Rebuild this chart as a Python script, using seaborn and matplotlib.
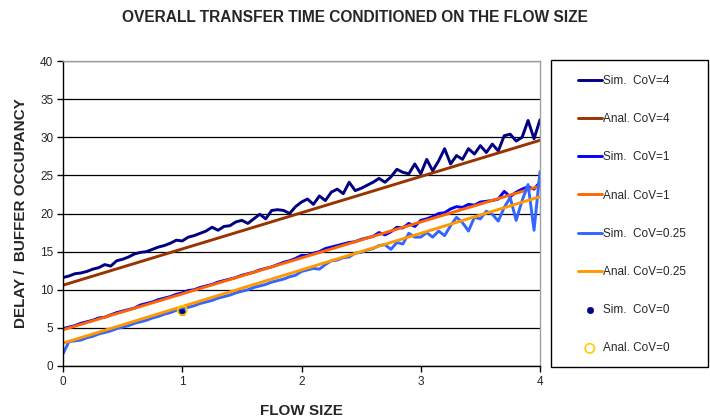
import numpy as np
import pandas as pd
import matplotlib
matplotlib.use('Agg')
import matplotlib.pyplot as plt
from matplotlib.patches import Rectangle
import seaborn as sns

# flow sizes of the simulation runs
flow_size = np.round(np.arange(0, 4.001, 0.05), 2)

sim_cov4 = [11.6, 11.8, 12.1, 12.2, 12.4, 12.7, 12.9, 13.3, 13.1, 13.8,
            14.0, 14.3, 14.7, 14.9, 15.0, 15.3, 15.6, 15.8, 16.1, 16.5,
            16.4, 16.9, 17.1, 17.4, 17.7, 18.2, 17.8, 18.3, 18.4, 18.9,
            19.1, 18.7, 19.3, 19.9, 19.3, 20.4, 20.5, 20.4, 20.0, 20.9,
            21.5, 21.9, 21.2, 22.3, 21.7, 22.8, 23.2, 22.6, 24.1, 23.0,
            23.3, 23.7, 24.1, 24.6, 24.1, 24.8, 25.8, 25.4, 25.2, 26.5,
            25.2, 27.1, 25.6, 26.9, 28.5, 26.5, 27.6, 27.1, 28.5, 27.8,
            28.9, 28.0, 29.1, 28.2, 30.2, 30.4, 29.5, 30.0, 32.2, 29.8,
            32.3]

sim_cov1 = [4.9, 5.1, 5.3, 5.6, 5.8, 6.0, 6.3, 6.4, 6.7, 7.0,
            7.2, 7.4, 7.6, 8.0, 8.2, 8.4, 8.7, 8.9, 9.1, 9.4,
            9.6, 9.9, 10.0, 10.3, 10.5, 10.7, 11.0, 11.2, 11.4, 11.6,
            11.9, 12.1, 12.3, 12.6, 12.8, 13.0, 13.3, 13.6, 13.8, 14.1,
            14.5, 14.5, 14.8, 15.0, 15.4, 15.6, 15.8, 16.0, 16.2, 16.3,
            16.6, 16.8, 17.0, 17.5, 17.2, 17.6, 18.2, 18.1, 18.7, 18.3,
            19.1, 19.3, 19.6, 20.0, 20.1, 20.6, 20.9, 20.8, 21.2, 21.1,
            21.5, 21.6, 21.7, 21.9, 22.9, 22.2, 22.8, 23.2, 23.5, 23.2,
            24.1]

sim_cov025 = [1.6, 3.2, 3.3, 3.4, 3.7, 3.9, 4.2, 4.4, 4.6, 4.9,
              5.1, 5.3, 5.6, 5.8, 6.0, 6.3, 6.5, 6.8, 7.0, 7.3,
              7.5, 7.7, 7.9, 8.2, 8.4, 8.6, 8.9, 9.1, 9.3, 9.6,
              9.8, 10.0, 10.3, 10.5, 10.7, 11.0, 11.2, 11.4, 11.7, 11.9,
              12.4, 12.6, 12.8, 12.7, 13.3, 13.8, 13.9, 14.2, 14.3, 14.8,
              14.9, 15.2, 15.4, 15.8, 15.9, 15.3, 16.2, 16.0, 17.4, 16.9,
              16.9, 17.5, 16.9, 17.7, 17.1, 18.4, 19.5, 18.8, 17.7, 19.5,
              19.3, 20.3, 19.9, 19.0, 20.8, 22.1, 19.1, 21.7, 23.8, 17.8,
              25.5]

# analytical results are straight lines: values at flow size 0 and 4
anal_x = [0, 4]
anal_cov4 = [10.6, 29.6]
anal_cov1 = [4.75, 23.6]
anal_cov025 = [3.0, 22.2]

# CoV=0 single point
cov0_x = [1.0]
sim_cov0 = [7.1]
anal_cov0 = [7.3]

sns.set_style('white')
plt.rcParams['font.family'] = ['Liberation Sans', 'DejaVu Sans']

fig = plt.figure(figsize=(7.1, 4.2), dpi=100)
ax = fig.add_axes([63 / 710, 1 - 366 / 420, 477 / 710, 305 / 420])

lw = 2.1
sns.lineplot(x=flow_size, y=sim_cov4, color='#000080', lw=lw, label='Sim.  CoV=4', ax=ax)
sns.lineplot(x=anal_x, y=anal_cov4, color='#993300', lw=lw, label='Anal. CoV=4', ax=ax)
sns.lineplot(x=flow_size, y=sim_cov1, color='#0000FF', lw=lw, label='Sim.  CoV=1', ax=ax)
sns.lineplot(x=anal_x, y=anal_cov1, color='#FF6600', lw=lw, label='Anal. CoV=1', ax=ax)
sns.lineplot(x=flow_size, y=sim_cov025, color='#3366FF', lw=lw, label='Sim.  CoV=0.25', ax=ax)
sns.lineplot(x=anal_x, y=anal_cov025, color='#FF9900', lw=lw, label='Anal. CoV=0.25', ax=ax)
sns.scatterplot(x=cov0_x, y=sim_cov0, color='#000080', s=22, edgecolor='#000080',
                label='Sim.  CoV=0', ax=ax, zorder=5)
sns.scatterplot(x=cov0_x, y=anal_cov0, facecolor='none', edgecolor='#FFCC00', s=45,
                linewidth=1.2, label='Anal. CoV=0', ax=ax, zorder=6)

ax.set_xlim(0, 4)
ax.set_ylim(0, 40)
ax.set_xticks([0, 1, 2, 3, 4])
ax.set_yticks(range(0, 41, 5))
ax.tick_params(axis='both', direction='out', length=4, width=1, color='black',
               labelsize=8.5, pad=3, bottom=True, left=True)
ax.yaxis.grid(True, color='black', lw=0.9)
ax.xaxis.grid(False)
ax.set_axisbelow(True)
for side in ['left', 'bottom']:
    ax.spines[side].set_color('black')
    ax.spines[side].set_linewidth(1)
for side in ['top', 'right']:
    ax.spines[side].set_color('#A0A0A0')
    ax.spines[side].set_linewidth(1)

ax.set_xlabel('FLOW SIZE', fontsize=11, fontweight='bold', labelpad=12)
ax.set_ylabel('DELAY /  BUFFER OCCUPANCY', fontsize=11, fontweight='bold', labelpad=9)
fig.text(0.5, 1 - 18 / 420, 'OVERALL TRANSFER TIME CONDITIONED ON THE FLOW SIZE',
         ha='center', va='center', fontsize=11.2, fontweight='bold')

handles, labels = ax.get_legend_handles_labels()
ax.get_legend().remove()
fig.legend(handles, labels, loc='upper left', bbox_to_anchor=(578 / 710, 1 - 75 / 420),
           frameon=False, fontsize=8.5, labelspacing=2.22, handlelength=2.0,
           handletextpad=0.1, borderpad=0, borderaxespad=0)
fig.patches.append(Rectangle((551 / 710, 1 - 367 / 420), 157 / 710, 307 / 420,
                             transform=fig.transFigure, fill=False,
                             edgecolor='black', lw=1))

fig.savefig('out.png', dpi=100)
